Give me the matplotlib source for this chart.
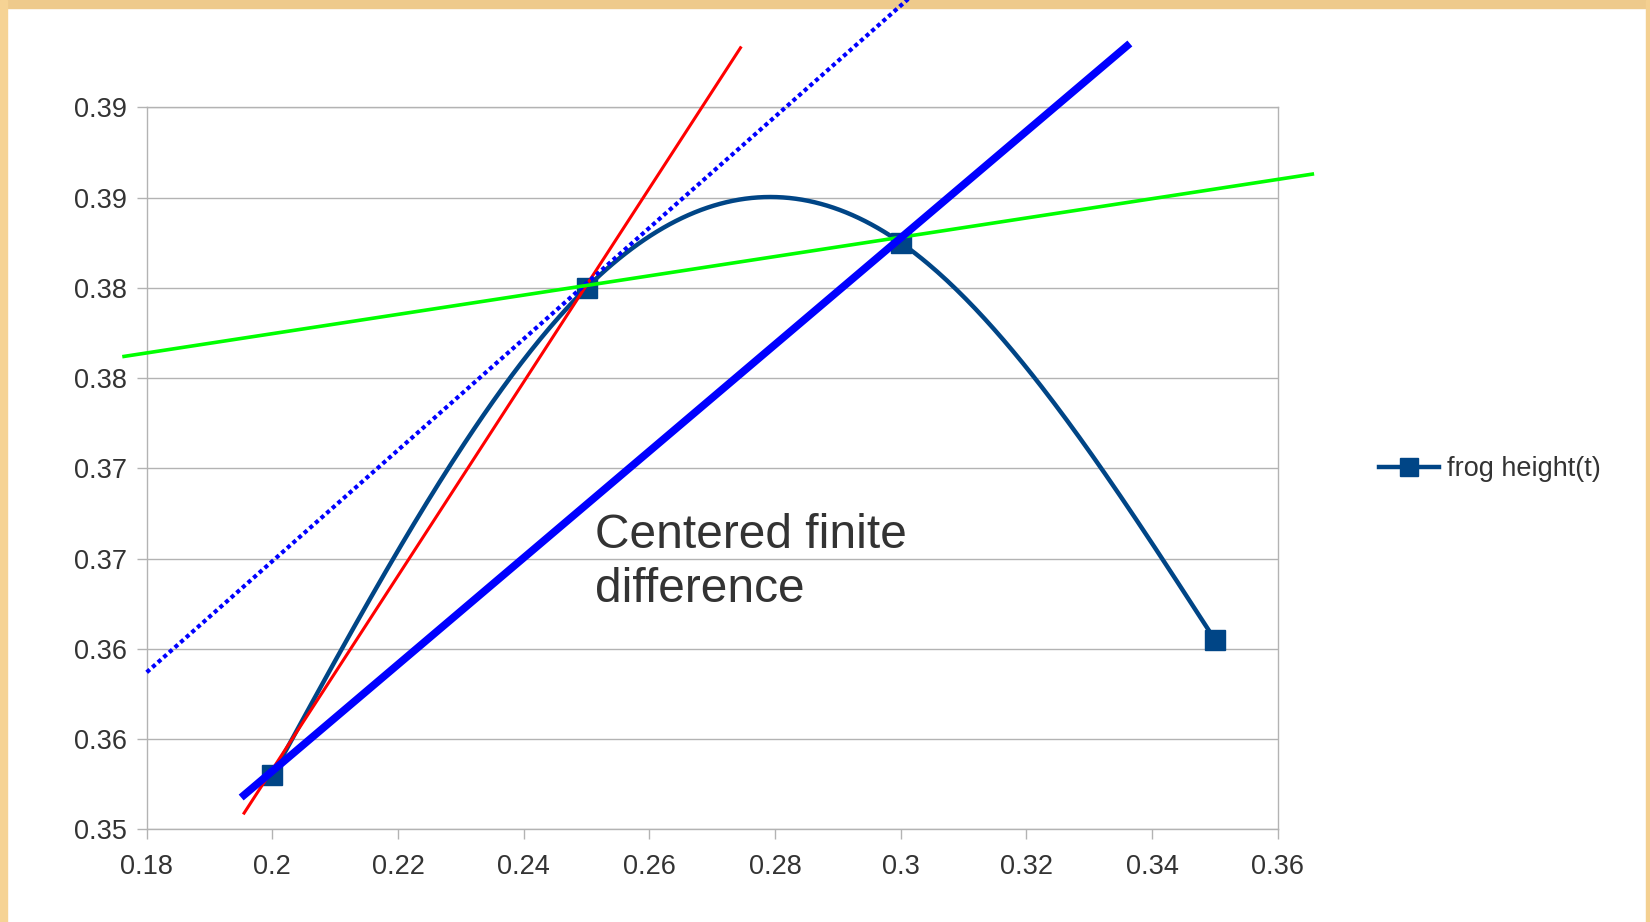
import numpy as np
import matplotlib.pyplot as plt
from matplotlib.patches import Rectangle

plt.rcParams['font.family'] = ['Liberation Sans', 'DejaVu Sans']

# frog data
t = [0.2, 0.25, 0.3, 0.35]
height = [0.353, 0.380, 0.3825, 0.3605]

# lines drawn over the chart (x ends, y ends)
red_x = [0.1955, 0.2745]
red_y = [0.3509, 0.3933]
centered_x = [0.1955, 0.3360]
centered_y = [0.3519, 0.3934]
tangent_x = [0.18, 0.3080]
tangent_y = [0.3587, 0.3981]
green_x = [0.1764, 0.3655]
green_y = [0.3762, 0.3863]

xticks = [0.18, 0.2, 0.22, 0.24, 0.26, 0.28, 0.3, 0.32, 0.34, 0.36]
xlabels = ['0.18', '0.2', '0.22', '0.24', '0.26', '0.28', '0.3', '0.32', '0.34', '0.36']
yticks = [0.35, 0.355, 0.36, 0.365, 0.37, 0.375, 0.38, 0.385, 0.39]
ylabels = ['0.35', '0.36', '0.36', '0.37', '0.37', '0.38', '0.38', '0.39', '0.39']

grey = '#b3b3b3'
text_col = '#333333'


def natural_spline(x, y, n=300):
    # smooth line like the office chart
    x = np.asarray(x, float)
    y = np.asarray(y, float)
    h = np.diff(x)
    k = len(x)
    A = np.zeros((k, k))
    r = np.zeros(k)
    A[0, 0] = 1
    A[-1, -1] = 1
    for i in range(1, k - 1):
        A[i, i - 1] = h[i - 1]
        A[i, i] = 2 * (h[i - 1] + h[i])
        A[i, i + 1] = h[i]
        r[i] = 6 * ((y[i + 1] - y[i]) / h[i] - (y[i] - y[i - 1]) / h[i - 1])
    M = np.linalg.solve(A, r)
    xs = np.linspace(x[0], x[-1], n)
    idx = np.clip(np.searchsorted(x, xs) - 1, 0, k - 2)
    x0, x1 = x[idx], x[idx + 1]
    hh = x1 - x0
    a = (x1 - xs) / hh
    b = (xs - x0) / hh
    ys = (a * y[idx] + b * y[idx + 1]
          + ((a ** 3 - a) * M[idx] + (b ** 3 - b) * M[idx + 1]) * hh ** 2 / 6)
    return xs, ys


fig = plt.figure(figsize=(16.5, 9.22), dpi=100)
ax = fig.add_axes([0.0889, 0.1005, 0.6855, 0.7831])

ax.set_xlim(0.18, 0.36)
ax.set_ylim(0.35, 0.39)
ax.set_xticks(xticks)
ax.set_xticklabels(xlabels)
ax.set_yticks(yticks)
ax.set_yticklabels(ylabels)
ax.tick_params(axis='both', colors=grey, labelcolor=text_col, labelsize=19.5,
               length=7.5, width=1)
ax.tick_params(axis='x', pad=10.5)
ax.tick_params(axis='y', pad=7)
for s in ax.spines.values():
    s.set_color(grey)
    s.set_linewidth(1)
ax.grid(axis='y', color=grey, linewidth=1)
ax.set_axisbelow(True)

# curve + markers
xs, ys = natural_spline(t, height)
ax.plot(xs, ys, color='#004586', lw=3.2, zorder=3)
ax.plot(t, height, 's', color='#004586', ms=14, zorder=4)
handle, = ax.plot([], [], '-s', color='#004586', lw=3.2, ms=12.5)

# hand drawn lines
ax.plot(red_x, red_y, color='#ff0000', lw=2.2, clip_on=False, zorder=5)
ax.plot(tangent_x, tangent_y, color='#0000ff', lw=3.0, ls=(0, (1, 0.8)),
        clip_on=False, zorder=5)
ax.plot(centered_x, centered_y, color='#0000ff', lw=5.5, clip_on=False, zorder=6)
ax.plot(green_x, green_y, color='#00ff00', lw=2.6, clip_on=False, zorder=5)

fig.text(595 / 1650, 1 - 548 / 922, 'Centered finite', fontsize=34.5,
         color=text_col, va='baseline', ha='left')
fig.text(595 / 1650, 1 - 601.7 / 922, 'difference', fontsize=34.5,
         color=text_col, va='baseline', ha='left')

fig.legend([handle], ['frog height(t)'], loc='center left',
           bbox_to_anchor=(1379 / 1650, 1 - 469 / 922), frameon=False,
           fontsize=19.5, handlelength=2.2, handletextpad=0.3,
           borderpad=0, borderaxespad=0, labelcolor=text_col)

# slide border (under the axes so the dotted line runs over it)
fig.add_artist(Rectangle((0, 1 - 8 / 922), 1, 8 / 922, transform=fig.transFigure,
                         color='#eeca8c', zorder=-1))
fig.add_artist(Rectangle((0, 0), 7 / 1650, 1, transform=fig.transFigure,
                         color='#f6d394', zorder=-1))
fig.add_artist(Rectangle((1 - 4 / 1650, 0), 4 / 1650, 1, transform=fig.transFigure,
                         color='#f4d091', zorder=-1))

fig.savefig('out.png', dpi=100)
